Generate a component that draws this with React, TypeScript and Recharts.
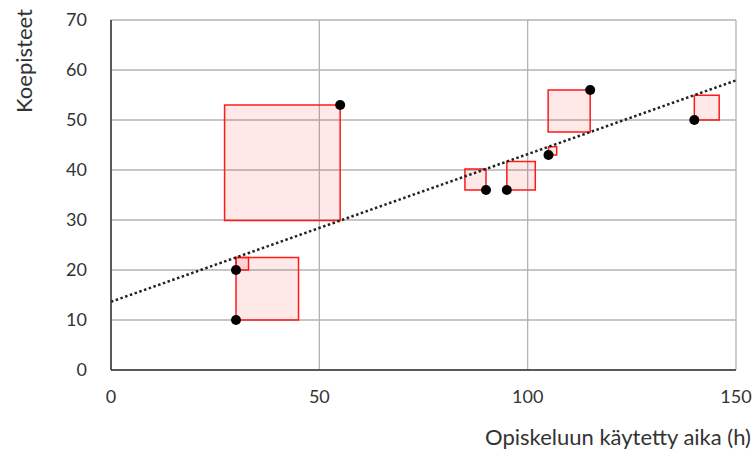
import {
  ScatterChart,
  Scatter,
  XAxis,
  YAxis,
  CartesianGrid,
  ReferenceArea,
  ReferenceLine,
} from 'recharts';

const hours = [30, 30, 55, 90, 95, 105, 115, 140];
const scores = [10, 20, 53, 36, 36, 43, 56, 50];
// which side of the point the residual square is drawn on
const squareSide = ['right', 'right', 'left', 'left', 'right', 'right', 'left', 'right'];
const xTicks = [0, 50, 100, 150];
const yTicks = [0, 10, 20, 30, 40, 50, 60, 70];

const WIDTH = 754;
const HEIGHT = 451;
const MARGIN = { top: 20, right: 18, bottom: 51, left: 51 };
const Y_AXIS_W = 60;
const X_AXIS_H = 30;
const PLOT_W = WIDTH - MARGIN.left - MARGIN.right - Y_AXIS_W;
const PLOT_H = HEIGHT - MARGIN.top - MARGIN.bottom - X_AXIS_H;
// y units -> x units so the squares come out square on screen
const UNIT_RATIO = (PLOT_H / 70) / (PLOT_W / 150);

const FONT = 'Lato, "Open Sans", sans-serif';

const points = hours.map((h, i) => ({ x: h, y: scores[i] }));

// least squares trend line
const meanX = hours.reduce((a, b) => a + b, 0) / hours.length;
const meanY = scores.reduce((a, b) => a + b, 0) / scores.length;
const sxy = hours.reduce((s, h, i) => s + (h - meanX) * (scores[i] - meanY), 0);
const sxx = hours.reduce((s, h) => s + (h - meanX) ** 2, 0);
const slope = sxy / sxx;
const intercept = meanY - slope * meanX;
const predict = (x: number) => intercept + slope * x;

const squares = points.map((p, i) => {
  const fit = predict(p.x);
  const side = Math.abs(p.y - fit) * UNIT_RATIO;
  const x2 = squareSide[i] === 'right' ? p.x + side : p.x - side;
  return { x1: Math.min(p.x, x2), x2: Math.max(p.x, x2), y1: Math.min(p.y, fit), y2: Math.max(p.y, fit) };
});

export default function App() {
  return (
    <div style={{ position: 'absolute', left: 0, top: 0, background: '#fff' }}>
      <ScatterChart width={WIDTH} height={HEIGHT} margin={MARGIN}>
        <CartesianGrid stroke="#b3b3b3" strokeWidth={1.3} />
        <XAxis
          type="number"
          dataKey="x"
          domain={[0, 150]}
          ticks={xTicks}
          height={X_AXIS_H}
          tickLine={false}
          axisLine={{ stroke: '#333', strokeWidth: 1.5 }}
          tick={{ fill: '#333', fontSize: 18, fontFamily: FONT }}
          tickMargin={14}
          label={{
            content: () => (
              <text x={751} y={445} textAnchor="end" fill="#333" fontSize={22} fontFamily={FONT}>
                Opiskeluun käytetty aika (h)
              </text>
            ),
          }}
        />
        <YAxis
          type="number"
          dataKey="y"
          domain={[0, 70]}
          ticks={yTicks}
          width={Y_AXIS_W}
          tickLine={false}
          axisLine={{ stroke: '#333', strokeWidth: 1.5 }}
          tick={{ fill: '#333', fontSize: 18, fontFamily: FONT }}
          tickMargin={18}
          label={{
            content: () => (
              <text
                x={32}
                y={61}
                transform="rotate(-90 32 61)"
                textAnchor="middle"
                fill="#333"
                fontSize={22}
                fontFamily={FONT}
              >
                Koepisteet
              </text>
            ),
          }}
        />
        {squares.map((s, i) => (
          <ReferenceArea
            key={i}
            x1={s.x1}
            x2={s.x2}
            y1={s.y1}
            y2={s.y2}
            fill="#ff0000"
            fillOpacity={0.09}
            stroke="#ff1a1a"
            strokeWidth={1.5}
            strokeOpacity={1}
          />
        ))}
        <ReferenceLine
          segment={[
            { x: 0, y: predict(0) },
            { x: 150, y: predict(150) },
          ]}
          stroke="#222"
          strokeWidth={2.5}
          strokeDasharray="2.5 2.5"
        />
        <Scatter data={points} fill="#000" isAnimationActive={false} shape={(props: any) => (
          <circle cx={props.cx} cy={props.cy} r={5} fill="#000" />
        )} />
      </ScatterChart>
    </div>
  );
}
